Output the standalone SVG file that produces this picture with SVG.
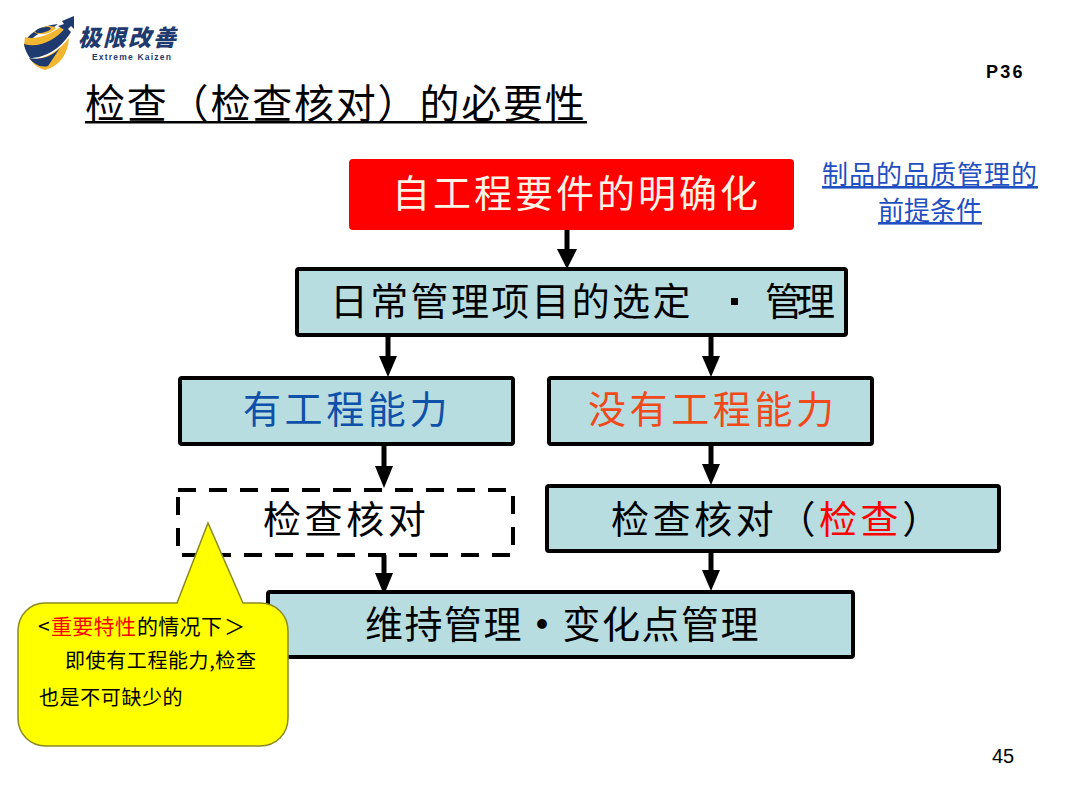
<svg xmlns="http://www.w3.org/2000/svg" width="1080" height="810" viewBox="0 0 1080 810">
<style>
text{font-family:"Noto Sans CJK SC","Noto Sans CJK JP",serif;fill:#000}
.big{font-size:38px;letter-spacing:3.6px;font-weight:400}
.box{fill:#b7dde1;stroke:#000;stroke-width:4}
.small{font-size:20px;letter-spacing:.6px}
.link{font-size:26px;fill:#1f4fc0;text-decoration:underline}
.lat{font-family:"Liberation Sans",Arial,sans-serif}
.conn line{stroke:#000;stroke-width:5}
.conn polygon{fill:#000}
</style>
<g id="logo">
<path d="M24 46C26 34 40 26 58 24L50 30C38 32 30 38 27 48Z" fill="#1f3a6e"/>
<path d="M34 32C40 26 52 24 56 28C52 34 38 36 34 32Z" fill="#f2b631"/>
<ellipse cx="43" cy="30" rx="8" ry="2.6" fill="#1f3a6e" transform="rotate(-12 43 30)"/>
<path d="M25 37C34 40 48 36 62 26L66 30C54 44 38 50 24 46Z" fill="#f2b631"/>
<path d="M24 44C38 48 54 42 66 27L71 32C60 50 44 58 30 58C27 54 25 50 24 44Z" fill="#1f3a6e"/>
<path d="M30 59C44 60 58 52 69 38C68 54 60 66 45 70C38 68 33 64 30 59Z" fill="#f2b631"/>
<path d="M29 58C40 60 50 58 60 48L48 66C40 68 34 64 29 58Z" fill="#1f3a6e"/>
<path d="M58 26L64 24L62 21L74 16L74 29L71 26L66 31Z" fill="#1f3a6e"/>
<text x="78" y="46" style="font-size:23px;font-weight:900;font-style:italic;letter-spacing:2px;fill:#1f3a6e">极限改善</text>
<text x="92" y="60" class="lat" style="font-size:8.5px;font-weight:700;letter-spacing:1.2px;fill:#1f3a6e">Extreme Kaizen</text>
</g>
<g id="title">
<text x="85" y="118" style="font-size:40px;letter-spacing:1.8px;font-weight:400">检查（检查核对）的必要性</text>
<rect x="85" y="121" width="502" height="2.5" fill="#000"/>
</g>
<text id="page" x="986" y="78" class="lat" style="font-size:18px;font-weight:700;letter-spacing:2.2px">P36</text>
<text id="pagenum" x="992" y="763" class="lat" style="font-size:20px">45</text>
<g id="connectors" class="conn">
<line x1="567" y1="229" x2="567" y2="252"/><polygon points="557,249 577,249 567,269"/>
<line x1="388" y1="335" x2="388" y2="358"/><polygon points="379,356 397,356 388,377"/>
<line x1="711" y1="335" x2="711" y2="358"/><polygon points="702,356 720,356 711,377"/>
<line x1="384" y1="443" x2="384" y2="468"/><polygon points="375,466 393,466 384,488"/>
<line x1="711" y1="443" x2="711" y2="466"/><polygon points="702,464 720,464 711,485"/>
<line x1="384" y1="554" x2="384" y2="575"/><polygon points="375,573 393,573 384,595"/>
<line x1="711" y1="551" x2="711" y2="572"/><polygon points="702,570 720,570 711,591"/>
</g>
<g id="n1">
<rect x="350" y="160" width="443" height="69" rx="3" fill="#fe0000" stroke="#f00" stroke-width="2"/>
<text x="392" y="207" class="big" style="fill:#fff3e6;letter-spacing:3px">自工程要件的明确化</text>
</g>
<g id="note1">
<text x="930" y="184" text-anchor="middle" class="link" letter-spacing="1">制品的品质管理的</text>
<text x="930" y="220" text-anchor="middle" class="link">前提条件</text>
</g>
<g id="n2">
<rect x="297" y="269" width="549" height="66" rx="2" class="box"/>
<text x="330" y="315" class="big" style="letter-spacing:2.3px">日常管理项目的选定</text>
<rect x="731" y="298" width="7" height="7" fill="#000"/>
<text x="765" y="315" class="big" style="letter-spacing:-6px">管理</text>
</g>
<g id="n3">
<rect x="180" y="378" width="333" height="66" rx="2" class="box"/>
<text x="243" y="423" class="big" style="fill:#0f50a8">有工程能力</text>
</g>
<g id="n4">
<rect x="549" y="378" width="323" height="66" rx="2" class="box"/>
<text x="588" y="423" class="big" style="fill:#f04a1a">没有工程能力</text>
</g>
<g id="n5">
<rect x="178" y="490" width="335" height="65" fill="#fff" stroke="#000" stroke-width="4" stroke-dasharray="18 13"/>
<text x="263" y="533" class="big">检查核对</text>
</g>
<g id="n6">
<rect x="547" y="486" width="452" height="65" rx="2" class="box"/>
<text x="611" y="533" class="big">检查核对（<tspan style="fill:#f00">检查</tspan>）</text>
</g>
<g id="n7">
<rect x="268" y="592" width="585" height="65" rx="2" class="box"/>
<text x="365" y="638" class="big" style="letter-spacing:1.5px">维持管理<tspan style="font-weight:700">·</tspan>变化点管理</text>
</g>
<g id="callout">
<path d="M45 603H177L208 523L243 603H260C276 603 288 615 288 631V718C288 734 276 746 260 746H46C30 746 18 734 18 718V631C18 615 30 603 45 603Z" fill="#ffff00" stroke="#8a8a20" stroke-width="1.5"/>
<text x="38" y="634" style="font-size:21px;letter-spacing:.3px">&lt;<tspan x="51" style="fill:#f00">重要特性</tspan><tspan x="137">的情况下</tspan><tspan x="224">＞</tspan></text>
<text x="65" y="668" class="small">即使有工程能力,检查</text>
<text x="39" y="705" class="small">也是不可缺少的</text>
</g>
</svg>
